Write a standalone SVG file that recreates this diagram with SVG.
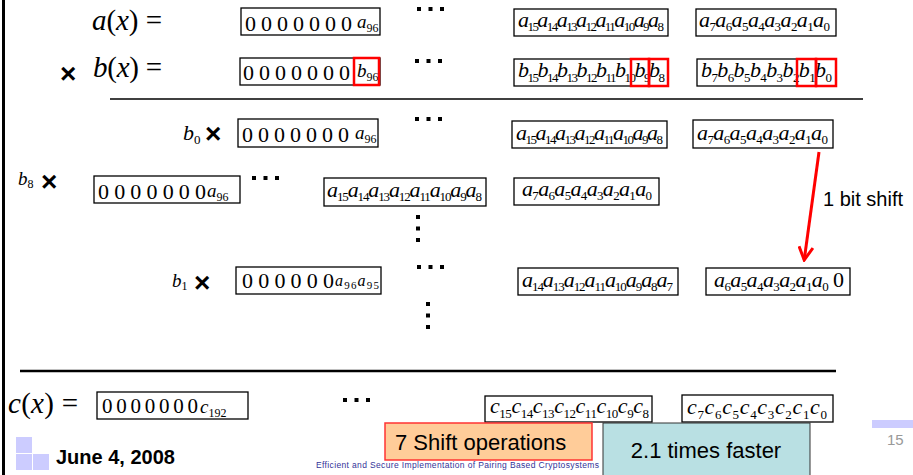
<svg xmlns="http://www.w3.org/2000/svg" xmlns:xlink="http://www.w3.org/1999/xlink" width="913" height="475" viewBox="0 0 913 475">
<style>
.bx{fill:#fff;stroke:#000;stroke-width:1.3}
.rb{fill:none;stroke:#f00;stroke-width:2.5}
.m{font-family:"Liberation Serif","Times New Roman",serif;fill:#000}
.z{font-size:22px}
.t{font-size:22px;font-style:italic}
.t2{font-size:19px;font-style:italic}
.s{font-size:13px;font-style:normal}
.s2{font-size:12px;font-style:normal}
.lbl{font-size:29px;font-style:italic}
.bl{font-size:19px;font-style:italic}
.up{font-style:normal}
.x{font-family:"Liberation Sans",Arial,sans-serif;font-size:28px;font-weight:bold;fill:#000}
.sans{font-family:"Liberation Sans",Arial,sans-serif}
.dt{fill:#000}
</style>
<defs>
<g id="hd" class="dt"><rect x="0" y="0" width="4" height="4"/><rect x="11.5" y="0" width="4" height="4"/><rect x="23" y="0" width="4" height="4"/></g>
<g id="vd" class="dt"><rect x="0" y="0" width="4" height="4"/><rect x="0" y="11.5" width="4" height="4"/><rect x="0" y="23" width="4" height="4"/></g>
<marker id="ah" viewBox="0 0 16 16" refX="14" refY="8" markerWidth="16" markerHeight="16" orient="auto" markerUnits="userSpaceOnUse"><path d="M1,1 L14,8 L1,15" fill="none" stroke="#f00" stroke-width="3"/></marker>
</defs>

<rect x="2" y="0" width="3" height="475" fill="#000"/>

<!-- labels -->
<g id="label-a"><text class="m lbl" x="92" y="30" textLength="70">a<tspan class="up">(</tspan>x<tspan class="up">) =</tspan></text></g>
<g id="label-b"><text class="x" x="60" y="83">×</text><text class="m lbl" x="93" y="77" textLength="69">b<tspan class="up">(</tspan>x<tspan class="up">) =</tspan></text></g>
<g id="label-b0"><text class="m" x="183" y="140" style="font-size:22px;font-style:italic">b<tspan class="s" dy="4">0</tspan></text><text class="x" x="205" y="143">×</text></g>
<g id="label-b8"><text class="m bl" x="18" y="185">b<tspan class="s2" dy="3">8</tspan></text><text class="x" x="41" y="191">×</text></g>
<g id="label-b1"><text class="m bl" x="172" y="287">b<tspan class="s2" dy="3">1</tspan></text><text class="x" x="194" y="292">×</text></g>
<g id="label-c"><text class="m lbl" x="8" y="413" textLength="70">c<tspan class="up">(</tspan>x<tspan class="up">) =</tspan></text></g>

<!-- row a -->
<g id="a-hi"><rect class="bx" x="241" y="8" width="139" height="27"/><text class="m z" x="245" y="31" textLength="107">0 0 0 0 0 0 0</text><text class="m t2" x="357" y="28">a<tspan class="s2" dy="4">96</tspan></text></g>
<g id="a-mid"><rect class="bx" x="514" y="9" width="154" height="27"/><text class="m t" x="518" y="27" textLength="146">a<tspan class="s" dy="4">15</tspan><tspan dy="-4">a</tspan><tspan class="s" dy="4">14</tspan><tspan dy="-4">a</tspan><tspan class="s" dy="4">13</tspan><tspan dy="-4">a</tspan><tspan class="s" dy="4">12</tspan><tspan dy="-4">a</tspan><tspan class="s" dy="4">11</tspan><tspan dy="-4">a</tspan><tspan class="s" dy="4">10</tspan><tspan dy="-4">a</tspan><tspan class="s" dy="4">9</tspan><tspan dy="-4">a</tspan><tspan class="s" dy="4">8</tspan></text></g>
<g id="a-lo"><rect class="bx" x="696" y="9" width="140" height="27"/><text class="m t" x="699" y="27" textLength="131">a<tspan class="s" dy="4">7</tspan><tspan dy="-4">a</tspan><tspan class="s" dy="4">6</tspan><tspan dy="-4">a</tspan><tspan class="s" dy="4">5</tspan><tspan dy="-4">a</tspan><tspan class="s" dy="4">4</tspan><tspan dy="-4">a</tspan><tspan class="s" dy="4">3</tspan><tspan dy="-4">a</tspan><tspan class="s" dy="4">2</tspan><tspan dy="-4">a</tspan><tspan class="s" dy="4">1</tspan><tspan dy="-4">a</tspan><tspan class="s" dy="4">0</tspan></text></g>

<!-- row b -->
<g id="b-hi"><rect class="bx" x="240" y="58" width="140" height="27"/><text class="m z" x="243" y="80" textLength="107">0 0 0 0 0 0 0</text><text class="m t2" x="357" y="77">b<tspan class="s2" dy="4">96</tspan></text><rect class="rb" x="354" y="58" width="25" height="27"/></g>
<g id="b-mid"><rect class="bx" x="514" y="59" width="154" height="27"/><text class="m t" x="518" y="77" textLength="147">b<tspan class="s" dy="5">15</tspan><tspan dy="-5">b</tspan><tspan class="s" dy="5">14</tspan><tspan dy="-5">b</tspan><tspan class="s" dy="5">13</tspan><tspan dy="-5">b</tspan><tspan class="s" dy="5">12</tspan><tspan dy="-5">b</tspan><tspan class="s" dy="5">11</tspan><tspan dy="-5">b</tspan><tspan class="s" dy="5">10</tspan><tspan dy="-5">b</tspan><tspan class="s" dy="5">9</tspan><tspan dy="-5">b</tspan><tspan class="s" dy="5">8</tspan></text><rect class="rb" x="631" y="59" width="18" height="27"/><rect class="rb" x="649" y="59" width="19" height="27"/></g>
<g id="b-lo"><rect class="bx" x="697" y="59" width="139" height="27"/><text class="m t" x="701" y="77" textLength="131">b<tspan class="s" dy="5">7</tspan><tspan dy="-5">b</tspan><tspan class="s" dy="5">6</tspan><tspan dy="-5">b</tspan><tspan class="s" dy="5">5</tspan><tspan dy="-5">b</tspan><tspan class="s" dy="5">4</tspan><tspan dy="-5">b</tspan><tspan class="s" dy="5">3</tspan><tspan dy="-5">b</tspan><tspan class="s" dy="5">2</tspan><tspan dy="-5">b</tspan><tspan class="s" dy="5">1</tspan><tspan dy="-5">b</tspan><tspan class="s" dy="5">0</tspan></text><rect class="rb" x="797" y="59" width="19" height="27"/><rect class="rb" x="816" y="59" width="20" height="27"/></g>

<line x1="110" y1="99" x2="863" y2="99" stroke="#404040" stroke-width="2"/>

<!-- row b0 -->
<g id="p0-hi"><rect class="bx" x="238" y="119" width="140" height="28"/><text class="m z" x="242" y="142" textLength="107">0 0 0 0 0 0 0</text><text class="m t2" x="355" y="139">a<tspan class="s2" dy="4">96</tspan></text></g>
<g id="p0-mid"><rect class="bx" x="512" y="121" width="155" height="27"/><text class="m t" x="516" y="140" textLength="147">a<tspan class="s" dy="4">15</tspan><tspan dy="-4">a</tspan><tspan class="s" dy="4">14</tspan><tspan dy="-4">a</tspan><tspan class="s" dy="4">13</tspan><tspan dy="-4">a</tspan><tspan class="s" dy="4">12</tspan><tspan dy="-4">a</tspan><tspan class="s" dy="4">11</tspan><tspan dy="-4">a</tspan><tspan class="s" dy="4">10</tspan><tspan dy="-4">a</tspan><tspan class="s" dy="4">9</tspan><tspan dy="-4">a</tspan><tspan class="s" dy="4">8</tspan></text></g>
<g id="p0-lo"><rect class="bx" x="693" y="120" width="140" height="28"/><text class="m t" x="697" y="140" textLength="131">a<tspan class="s" dy="4">7</tspan><tspan dy="-4">a</tspan><tspan class="s" dy="4">6</tspan><tspan dy="-4">a</tspan><tspan class="s" dy="4">5</tspan><tspan dy="-4">a</tspan><tspan class="s" dy="4">4</tspan><tspan dy="-4">a</tspan><tspan class="s" dy="4">3</tspan><tspan dy="-4">a</tspan><tspan class="s" dy="4">2</tspan><tspan dy="-4">a</tspan><tspan class="s" dy="4">1</tspan><tspan dy="-4">a</tspan><tspan class="s" dy="4">0</tspan></text></g>

<!-- row b8 -->
<g id="p8-hi"><rect class="bx" x="94" y="176" width="146" height="27"/><text class="m z" x="98" y="199" textLength="108">0 0 0 0 0 0 0</text><text class="m t2" x="207" y="197">a<tspan class="s2" dy="4">96</tspan></text></g>
<g id="p8-mid"><rect class="bx" x="324" y="178" width="162" height="28"/><text class="m t" x="327" y="197" textLength="155">a<tspan class="s" dy="4">15</tspan><tspan dy="-4">a</tspan><tspan class="s" dy="4">14</tspan><tspan dy="-4">a</tspan><tspan class="s" dy="4">13</tspan><tspan dy="-4">a</tspan><tspan class="s" dy="4">12</tspan><tspan dy="-4">a</tspan><tspan class="s" dy="4">11</tspan><tspan dy="-4">a</tspan><tspan class="s" dy="4">10</tspan><tspan dy="-4">a</tspan><tspan class="s" dy="4">9</tspan><tspan dy="-4">a</tspan><tspan class="s" dy="4">8</tspan></text></g>
<g id="p8-lo"><rect class="bx" x="514" y="178" width="145" height="27"/><text class="m t" x="522" y="196" textLength="130">a<tspan class="s" dy="4">7</tspan><tspan dy="-4">a</tspan><tspan class="s" dy="4">6</tspan><tspan dy="-4">a</tspan><tspan class="s" dy="4">5</tspan><tspan dy="-4">a</tspan><tspan class="s" dy="4">4</tspan><tspan dy="-4">a</tspan><tspan class="s" dy="4">3</tspan><tspan dy="-4">a</tspan><tspan class="s" dy="4">2</tspan><tspan dy="-4">a</tspan><tspan class="s" dy="4">1</tspan><tspan dy="-4">a</tspan><tspan class="s" dy="4">0</tspan></text></g>

<!-- row b1 -->
<g id="p1-hi"><rect class="bx" x="236" y="267" width="145" height="27"/><text class="m z" x="242" y="288" textLength="92">0 0 0 0 0 0</text><text class="m" x="335" y="286" textLength="44" style="font-size:16px;font-style:italic">a<tspan class="s2" dy="3" style="font-size:11px">96</tspan><tspan dy="-3">a</tspan><tspan class="s2" dy="3" style="font-size:11px">95</tspan></text></g>
<g id="p1-mid"><rect class="bx" x="518" y="268" width="160" height="27"/><text class="m t" x="522" y="287" textLength="151">a<tspan class="s" dy="4">14</tspan><tspan dy="-4">a</tspan><tspan class="s" dy="4">13</tspan><tspan dy="-4">a</tspan><tspan class="s" dy="4">12</tspan><tspan dy="-4">a</tspan><tspan class="s" dy="4">11</tspan><tspan dy="-4">a</tspan><tspan class="s" dy="4">10</tspan><tspan dy="-4">a</tspan><tspan class="s" dy="4">9</tspan><tspan dy="-4">a</tspan><tspan class="s" dy="4">8</tspan><tspan dy="-4">a</tspan><tspan class="s" dy="4">7</tspan></text></g>
<g id="p1-lo"><rect class="bx" x="706" y="268" width="144" height="27"/><text class="m t" x="714" y="287" textLength="130">a<tspan class="s" dy="4">6</tspan><tspan dy="-4">a</tspan><tspan class="s" dy="4">5</tspan><tspan dy="-4">a</tspan><tspan class="s" dy="4">4</tspan><tspan dy="-4">a</tspan><tspan class="s" dy="4">3</tspan><tspan dy="-4">a</tspan><tspan class="s" dy="4">2</tspan><tspan dy="-4">a</tspan><tspan class="s" dy="4">1</tspan><tspan dy="-4">a</tspan><tspan class="s" dy="4">0</tspan><tspan class="up" dy="-4"> 0</tspan></text></g>

<line x1="20" y1="371" x2="836" y2="371" stroke="#000" stroke-width="2.5"/>

<!-- row c -->
<g id="c-hi"><rect class="bx" x="97" y="392" width="151" height="27"/><text class="m" x="102" y="413" textLength="96" style="font-size:21px">0 0 0 0 0 0 0</text><text class="m t2" x="200" y="413">c<tspan class="s2" dy="4">192</tspan></text></g>
<g id="c-mid"><rect class="bx" x="485" y="396" width="167" height="26"/><text class="m t" x="490" y="413" textLength="159">c<tspan class="s" dy="5">15</tspan><tspan dy="-5">c</tspan><tspan class="s" dy="5">14</tspan><tspan dy="-5">c</tspan><tspan class="s" dy="5">13</tspan><tspan dy="-5">c</tspan><tspan class="s" dy="5">12</tspan><tspan dy="-5">c</tspan><tspan class="s" dy="5">11</tspan><tspan dy="-5">c</tspan><tspan class="s" dy="5">10</tspan><tspan dy="-5">c</tspan><tspan class="s" dy="5">9</tspan><tspan dy="-5">c</tspan><tspan class="s" dy="5">8</tspan></text></g>
<g id="c-lo"><rect class="bx" x="682" y="395" width="151" height="27"/><text class="m t" x="687" y="414" textLength="140">c<tspan class="s" dy="5">7</tspan><tspan dy="-5">c</tspan><tspan class="s" dy="5">6</tspan><tspan dy="-5">c</tspan><tspan class="s" dy="5">5</tspan><tspan dy="-5">c</tspan><tspan class="s" dy="5">4</tspan><tspan dy="-5">c</tspan><tspan class="s" dy="5">3</tspan><tspan dy="-5">c</tspan><tspan class="s" dy="5">2</tspan><tspan dy="-5">c</tspan><tspan class="s" dy="5">1</tspan><tspan dy="-5">c</tspan><tspan class="s" dy="5">0</tspan></text></g>

<!-- ellipses -->
<g id="ellipses">
<use xlink:href="#hd" x="417" y="7"/>
<use xlink:href="#hd" x="415" y="59"/>
<use xlink:href="#hd" x="415" y="117"/>
<use xlink:href="#hd" x="252" y="176"/>
<use xlink:href="#hd" x="417" y="265"/>
<use xlink:href="#hd" x="343" y="398"/>
<use xlink:href="#vd" x="416" y="215"/>
<use xlink:href="#vd" x="426" y="302"/>
</g>

<!-- connectors -->
<g id="connectors">
<line x1="819" y1="152" x2="804.2" y2="260" stroke="#f00" stroke-width="3" marker-end="url(#ah)"/>
</g>
<g id="shift-label"><text class="sans" x="823" y="206" font-size="20" fill="#000">1 bit shift</text></g>

<!-- footer -->
<g id="logo" fill="#ccccff"><rect x="16" y="437" width="16" height="16"/><rect x="16" y="454" width="16" height="16"/><rect x="33" y="454" width="16" height="16"/></g>
<text class="sans" x="56" y="464" font-size="20" font-weight="bold" fill="#000">June 4, 2008</text>
<text class="sans" x="316" y="468" font-size="8.5" fill="#333399" textLength="283">Efficient and Secure Implementation of Pairing Based Cryptosystems</text>
<rect x="872" y="420" width="41" height="8" fill="#ccccff"/>
<text class="sans" x="887" y="445" font-size="15" fill="#999">15</text>

<g id="shift-ops"><rect x="385" y="423" width="207" height="37" fill="#ffcc99" stroke="#ff3333" stroke-width="1.5"/><text class="sans" x="395" y="450" font-size="22" fill="#000">7 Shift operations</text></g>
<g id="faster"><rect x="603" y="423" width="207" height="60" fill="#b9e0e3" stroke="#333" stroke-width="1"/><text class="sans" x="706" y="458" font-size="22" fill="#000" text-anchor="middle">2.1 times faster</text></g>
</svg>
